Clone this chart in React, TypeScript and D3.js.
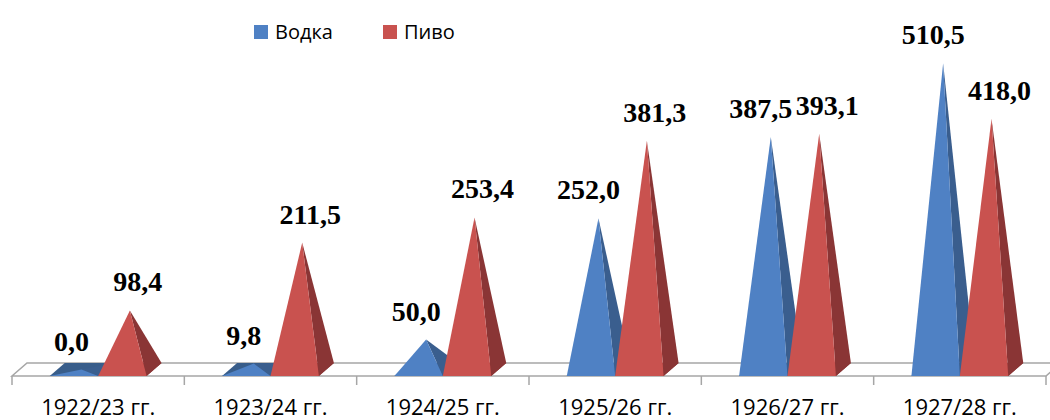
import * as d3 from "d3"

const categories = ["1922/23 гг.", "1923/24 гг.", "1924/25 гг.", "1925/26 гг.", "1926/27 гг.", "1927/28 гг."]
const seriesNames = ["Водка", "Пиво"]
const vodka = [0.0, 9.8, 50.0, 252.0, 387.5, 510.5]
const beer = [98.4, 211.5, 253.4, 381.3, 393.1, 418.0]

const W = 1050
const H = 420
const FRONT_Y = 376
const DEPTH_X = 15
const DEPTH_Y = -13

const colors = {
  Водка: { front: "#4F81C4", side: "#3A5E8E", base: "#385D8A", label: -10 },
  Пиво: { front: "#C9524F", side: "#8A3535", base: "#8A3535", label: 8 },
}

const fmt = (v: number) => v.toFixed(1).replace(".", ",")

export default function App() {
  const x = d3.scaleBand<string>().domain(categories).range([12, 1046]).padding(0)
  const inner = d3.scaleBand<string>().domain(seriesNames).range([0, x.bandwidth()]).paddingInner(0).paddingOuter(0.78)
  const y = d3.scaleLinear().domain([0, 600]).range([FRONT_Y + DEPTH_Y / 2, FRONT_Y + DEPTH_Y / 2 - 360])

  const bw = inner.bandwidth()
  const series = [
    { name: "Водка", values: vodka },
    { name: "Пиво", values: beer },
  ]

  const pyramids: any[] = []
  categories.forEach((c, i) => {
    series.forEach((s) => {
      const v = s.values[i]
      const xl = (x(c) || 0) + (inner(s.name) || 0)
      const xr = xl + bw
      const ax = xl + bw / 2 + DEPTH_X / 2
      const ay = y(v)
      pyramids.push({ c, name: s.name, v, xl, xr, ax, ay })
    })
  })

  const pt = (p: number[][]) => p.map((q) => q.join(",")).join(" ")
  const x0 = x.range()[0]
  const x1 = x.range()[1]
  const labelFont = "'Liberation Serif', 'Times New Roman', serif"
  const sansFont = "'Open Sans', sans-serif"

  return (
    <svg width={W} height={H} style={{ position: "absolute", left: 0, top: 0, background: "#fff" }}>
      {/* floor */}
      <polygon
        points={pt([[x0, FRONT_Y], [x1, FRONT_Y], [x1 + DEPTH_X, FRONT_Y + DEPTH_Y], [x0 + DEPTH_X, FRONT_Y + DEPTH_Y]])}
        fill="#fff"
        stroke="#A6A6A6"
        strokeWidth={1.5}
      />
      {/* ticks */}
      {[...categories.map((c) => x(c) || 0), x1].map((t, i) => (
        <line key={i} x1={t} x2={t} y1={FRONT_Y} y2={FRONT_Y + 9} stroke="#A6A6A6" strokeWidth={1.5} />
      ))}
      {/* pyramids */}
      {pyramids.map((p, i) => {
        const col = (colors as any)[p.name]
        const fl = [p.xl, FRONT_Y]
        const fr = [p.xr, FRONT_Y]
        const br = [p.xr + DEPTH_X, FRONT_Y + DEPTH_Y]
        const bl = [p.xl + DEPTH_X, FRONT_Y + DEPTH_Y]
        const ap = [p.ax, p.ay]
        return (
          <g key={i}>
            <polygon points={pt([fl, fr, br, bl])} fill={col.base} />
            <polygon points={pt([fr, br, ap])} fill={col.side} />
            <polygon points={pt([fl, fr, ap])} fill={col.front} />
          </g>
        )
      })}
      {/* data labels */}
      {pyramids.map((p, i) => (
        <text
          key={"l" + i}
          x={p.ax + (colors as any)[p.name].label}
          y={p.ay - 19}
          textAnchor="middle"
          fontFamily={labelFont}
          fontWeight="bold"
          fontSize={28}
          fill="#000"
        >
          {fmt(p.v)}
        </text>
      ))}
      {/* category labels */}
      {categories.map((c) => (
        <text
          key={c}
          x={(x(c) || 0) + x.bandwidth() / 2}
          y={415}
          textAnchor="middle"
          fontFamily={sansFont}
          fontSize={22}
          fill="#000"
        >
          {c}
        </text>
      ))}
      {/* legend */}
      {seriesNames.map((s, i) => {
        const lx = i === 0 ? 254 : 383
        return (
          <g key={s}>
            <rect x={lx} y={25} width={14} height={14} fill={(colors as any)[s].front} />
            <text x={lx + 21} y={39} fontFamily={sansFont} fontSize={20} fill="#000">
              {s}
            </text>
          </g>
        )
      })}
    </svg>
  )
}
